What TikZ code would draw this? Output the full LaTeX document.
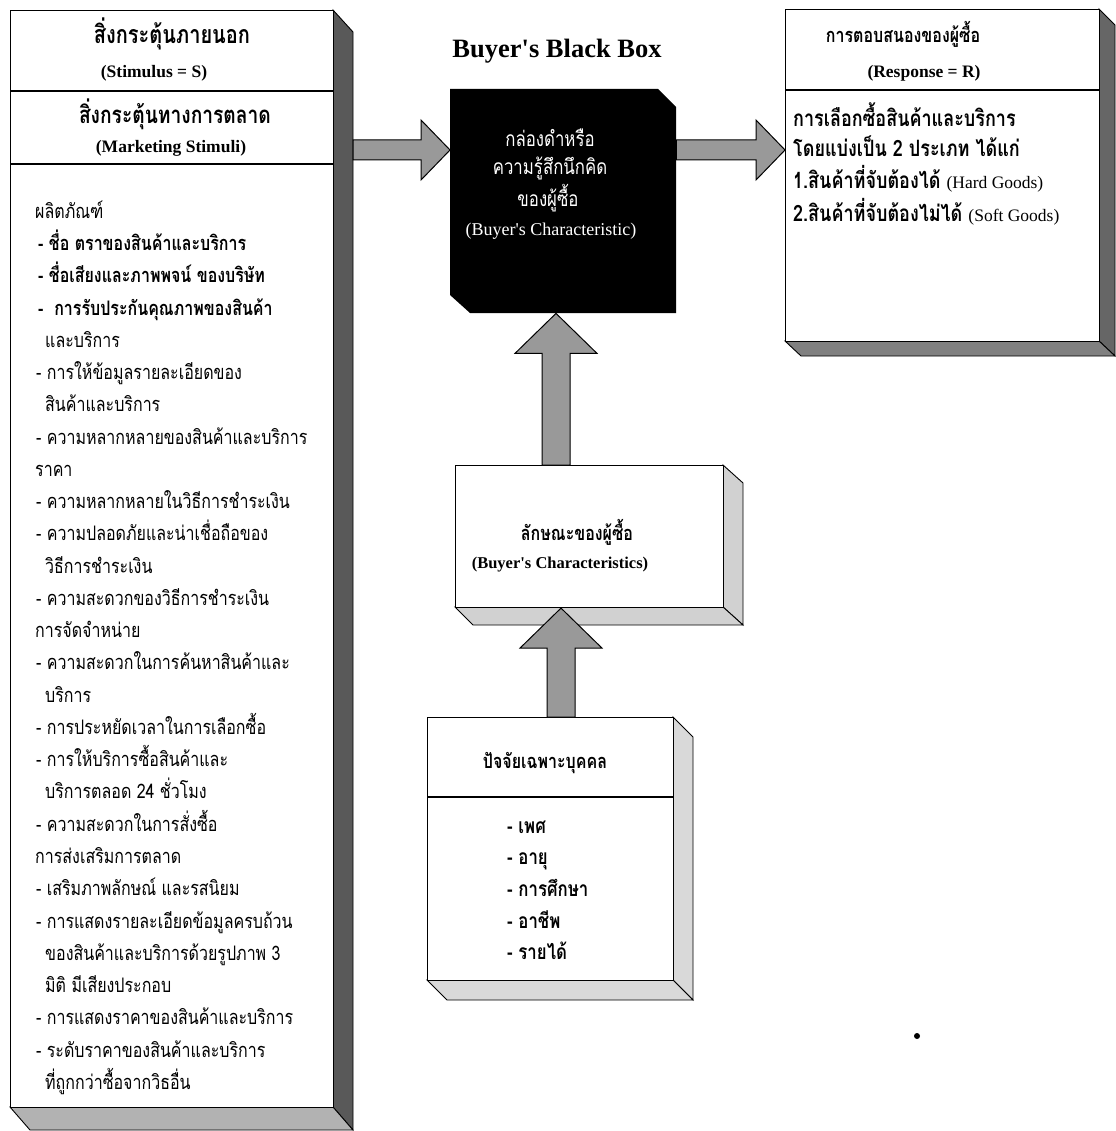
\documentclass[tikz,border=0pt]{standalone}
\usepackage{fontspec}
\setmainfont{Liberation Serif}[Ligatures=TeXOff]
\newfontfamily\thaifont[Script=Thai, FakeStretch=0.8]{Loma}
\usetikzlibrary{calc}
\tikzset{
  face/.style={draw, line width=1.1pt, fill=white, inner sep=0pt, anchor=north west},
  band/.style={draw, line width=0.9pt, fill=#1},
  blk/.style={draw, line width=1pt, fill=black!40},
  th/.style={font=\thaifont\fontsize{#1}{24}\selectfont, inner sep=0pt, yshift=-4pt},
  thb/.style={font=\thaifont\bfseries\fontsize{#1}{24}\selectfont, inner sep=0pt, yshift=-4pt},
  lat/.style={font=\fontsize{#1}{22}\selectfont, inner sep=0pt, yshift=-3pt},
  latb/.style={font=\bfseries\fontsize{#1}{22}\selectfont, inner sep=0pt, yshift=-3pt},
  th/.default=20, thb/.default=20, lat/.default=17.5, latb/.default=17.5,
}
\newcommand\hblock[2]{\draw[blk] let \p1=(#1), \p2=(#2) in
  (\x1,\y1+10pt) -- (\x2-29pt,\y1+10pt) -- (\x2-29pt,\y1+30pt) -- (\x2,\y1)
  -- (\x2-29pt,\y1-30pt) -- (\x2-29pt,\y1-10pt) -- (\x1,\y1-10pt) -- cycle;}
\newcommand\vblock[2]{\draw[blk] let \p1=(#1), \p2=(#2) in
  (\x1-14pt,\y1) -- (\x1-14pt,\y2-40pt) -- (\x1-41pt,\y2-40pt) -- (\x1,\y2)
  -- (\x1+41pt,\y2-40pt) -- (\x1+14pt,\y2-40pt) -- (\x1+14pt,\y1) -- cycle;}
\begin{document}
\begin{tikzpicture}[x=1pt,y=-1pt]
\useasboundingbox (0,0) rectangle (1115,1131);
\fill[white] (0,0) rectangle (1115,1131);

% ---------- left box: stimulus ----------
\draw[band=black!65] (333,10) -- (353,32) -- (353,1130) -- (333,1107) -- cycle;
\draw[band=black!30] (10,1107) -- (333,1107) -- (353,1130) -- (30,1130) -- cycle;
\node[face, minimum width=323pt, minimum height=1097pt] (stim) at (10,10) {};
\draw[line width=1.1pt] (10,91) -- (333,91);
\draw[line width=1.1pt] (10,164) -- (333,164);
\node[thb=25, anchor=mid] (s1) at (172,37) {สิ่งกระตุ้นภายนอก};
\node[latb, anchor=mid] (s2) at (154,72) {(Stimulus = S)};
\node[thb=24, anchor=mid] (s3) at (175,117) {สิ่งกระตุ้นทางการตลาด};
\node[latb, anchor=mid] (s4) at (171,147) {(Marketing Stimuli)};

\foreach \xx/\st/\tx [count=\i] in {
  35/th/ผลิตภัณฑ์,
  38/thb/- ชื่อ ตราของสินค้าและบริการ,
  38/thb/- ชื่อเสียงและภาพพจน์ ของบริษัท,
  38/thb/-\ \ การรับประกันคุณภาพของสินค้า,
  45/th/และบริการ,
  36/th/- การให้ข้อมูลรายละเอียดของ,
  45/th/สินค้าและบริการ,
  36/th/- ความหลากหลายของสินค้าและบริการ,
  35/th/ราคา,
  36/th/- ความหลากหลายในวิธีการชำระเงิน,
  36/th/- ความปลอดภัยและน่าเชื่อถือของ,
  45/th/วิธีการชำระเงิน,
  36/th/- ความสะดวกของวิธีการชำระเงิน,
  35/th/การจัดจำหน่าย,
  36/th/- ความสะดวกในการค้นหาสินค้าและ,
  45/th/บริการ,
  36/th/- การประหยัดเวลาในการเลือกซื้อ,
  36/th/- การให้บริการซื้อสินค้าและ,
  45/th/บริการตลอด 24 ชั่วโมง,
  36/th/- ความสะดวกในการสั่งซื้อ,
  35/th/การส่งเสริมการตลาด,
  36/th/- เสริมภาพลักษณ์ และรสนิยม,
  36/th/- การแสดงรายละเอียดข้อมูลครบถ้วน,
  45/th/ของสินค้าและบริการด้วยรูปภาพ 3,
  45/th/มิติ มีเสียงประกอบ,
  36/th/- การแสดงราคาของสินค้าและบริการ,
  36/th/- ระดับราคาของสินค้าและบริการ,
  45/th/ที่ถูกกว่าซื้อจากวิธอื่น}
  \node[\st, anchor=mid west] (L\i) at (\xx,{212+32.26*(\i-1)}) {\tx};

% ---------- black box ----------
\node[inner sep=0pt, minimum width=226pt, minimum height=224pt, anchor=north west] (bb) at (450,89) {};
\fill[black] (450,89) -- (658,89) -- (676,107) -- (676,313) -- (470,313) -- (450,295) -- cycle;
\node[font=\bfseries\fontsize{26.5}{30}\selectfont, inner sep=0pt, anchor=mid] (title) at (557,55) {Buyer's Black Box};
\node[th=21, text=white, anchor=mid] (b1) at (550,140) {กล่องดำหรือ};
\node[th=21, text=white, anchor=mid] (b2) at (550,168) {ความรู้สึกนึกคิด};
\node[th=21, text=white, anchor=mid] (b3) at (548,200) {ของผู้ซื้อ};
\node[lat=18, text=white, anchor=mid] (b4) at (551,230) {(Buyer's Characteristic)};

% ---------- response box ----------
\draw[band=black!60] (1099,9) -- (1115,25) -- (1115,356) -- (1099,341) -- cycle;
\draw[band=black!50] (785,341) -- (1099,341) -- (1115,356) -- (801,356) -- cycle;
\node[face, minimum width=314pt, minimum height=332pt] (resp) at (785,9) {};
\draw[line width=1.1pt] (785,90) -- (1099,90);
\node[thb=20, anchor=mid] (r1) at (903,36) {การตอบสนองของผู้ซื้อ};
\node[latb, anchor=mid] (r2) at (924,72) {(Response = R)};
\node[thb=22.5, anchor=mid west] (r3) at (793,120) {การเลือกซื้อสินค้าและบริการ};
\node[thb=22.5, anchor=mid west] (r4) at (793,150) {โดยแบ่งเป็น 2 ประเภท ได้แก่};
\node[thb=22.5, anchor=mid west] (r5) at (793,182) {1.สินค้าที่จับต้องได้ {\normalfont\fontsize{17.5}{20}\selectfont (Hard Goods)}};
\node[thb=22.5, anchor=mid west] (r6) at (793,215) {2.สินค้าที่จับต้องไม่ได้ {\normalfont\fontsize{17.5}{20}\selectfont (Soft Goods)}};

% ---------- buyer's characteristics box ----------
\draw[band=black!18] (723,465) -- (743,483) -- (743,625) -- (723,607) -- cycle;
\draw[band=black!18] (455,607) -- (723,607) -- (743,625) -- (473,625) -- cycle;
\node[face, minimum width=268pt, minimum height=142pt] (chr) at (455,465) {};
\node[thb=20, anchor=mid] (c1) at (577,534) {ลักษณะของผู้ซื้อ};
\node[latb=16.5, anchor=mid] (c2) at (560,563) {(Buyer's Characteristics)};

% ---------- personal factors box ----------
\draw[band=black!15] (673,717) -- (693,737) -- (693,1000) -- (673,980) -- cycle;
\draw[band=black!15] (427,980) -- (673,980) -- (693,1000) -- (447,1000) -- cycle;
\node[face, minimum width=246pt, minimum height=263pt] (pers) at (427,717) {};
\draw[line width=1.1pt] (427,797) -- (673,797);
\node[thb=20, anchor=mid] (p0) at (545,762) {ปัจจัยเฉพาะบุคคล};
\node[thb=21, anchor=mid west] (p1) at (507,827) {- เพศ};
\node[thb=21, anchor=mid west] (p2) at (507,858) {- อายุ};
\node[thb=21, anchor=mid west] (p3) at (507,890) {- การศึกษา};
\node[thb=21, anchor=mid west] (p4) at (507,922) {- อาชีพ};
\node[thb=21, anchor=mid west] (p5) at (507,953) {- รายได้};

% ---------- connectors (block arrows) ----------
\coordinate (stimout) at (353,150);
\coordinate (bbin) at (bb.west |- stimout);
\coordinate (bbout) at (bb.east |- stimout);
\coordinate (respin) at (resp.west |- stimout);
\coordinate (chrout) at (556,465);
\coordinate (bbbot) at (bb.south -| chrout);
\coordinate (persout) at (561,717);
\coordinate (chrbot) at (chr.south -| persout);
\hblock{stimout}{bbin}
\hblock{bbout}{respin}
\vblock{chrout}{bbbot}
\vblock{persout}{chrbot}

\fill (917,1036) circle (3pt);
\end{tikzpicture}
\end{document}
